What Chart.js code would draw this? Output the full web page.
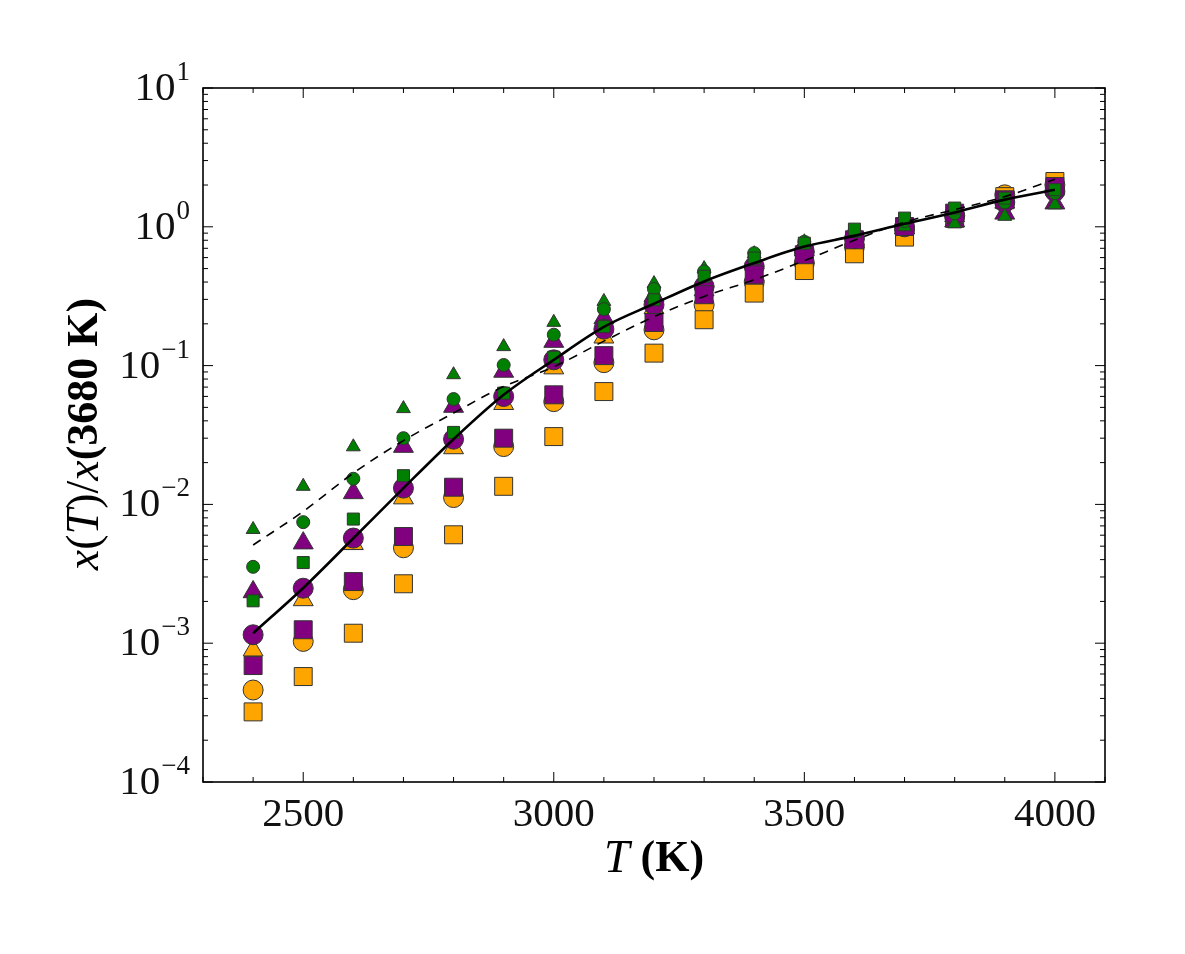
<!DOCTYPE html>
<html lang="en">
<head>
<meta charset="UTF-8">
<title>x(T)/x(3680 K)</title>
<script src="https://cdn.jsdelivr.net/npm/chart.js"></script>
<style>
  html, body { margin: 0; padding: 0; background: #fff; }
  .wrap { width: 1185px; height: 954px; position: relative; }
</style>
</head>
<body>
<div class="wrap"><canvas id="chart"></canvas></div>
<script>
// temperatures (K)
const temps = [2400, 2500, 2600, 2700, 2800, 2900, 3000, 3100, 3200, 3300, 3400, 3500, 3600, 3700, 3800, 3900, 4000];

// green (small markers)
const greenTri  = [0.0066, 0.0135, 0.026, 0.049, 0.086, 0.137, 0.205, 0.29, 0.39, 0.50, 0.64, 0.78, 0.90, 1.00, 1.05, 1.19, 1.44];
const greenCirc = [0.00355, 0.00745, 0.0153, 0.030, 0.0574, 0.101, 0.167, 0.255, 0.356, 0.477, 0.646, 0.78, 0.93, 1.10, 1.25, 1.50, 1.75];
const greenSq   = [0.00202, 0.00381, 0.00784, 0.0161, 0.033, 0.0633, 0.115, 0.191, 0.298, 0.44, 0.595, 0.762, 0.962, 1.155, 1.364, 1.61, 1.85];

// purple
const purpleTri  = [0.00234, 0.00526, 0.0121, 0.0261, 0.0507, 0.0907, 0.149, 0.22, 0.318, 0.404, 0.55, 0.68, 0.82, 0.98, 1.10, 1.25, 1.48];
const purpleCirc = [0.00115, 0.00249, 0.00572, 0.0131, 0.0295, 0.0599, 0.110, 0.183, 0.274, 0.372, 0.518, 0.66, 0.82, 1.00, 1.20, 1.50, 1.80];
const purpleSq   = [0.00069, 0.00125, 0.00278, 0.00587, 0.0133, 0.030, 0.0616, 0.118, 0.2045, 0.324, 0.451, 0.629, 0.806, 1.005, 1.255, 1.566, 1.95];

// orange
const orangeTri  = [0.00089, 0.00205, 0.0052, 0.0111, 0.0255, 0.0531, 0.0959, 0.160, 0.26, 0.35, 0.45, 0.60, 0.78, 0.98, 1.20, 1.50, 1.90];
const orangeCirc = [0.00046, 0.00103, 0.00243, 0.00487, 0.0112, 0.0261, 0.055, 0.105, 0.181, 0.274, 0.40, 0.55, 0.72, 0.95, 1.20, 1.70, 2.00];
const orangeSq   = [0.00032, 0.000575, 0.00118, 0.00268, 0.00604, 0.0135, 0.0308, 0.065, 0.123, 0.214, 0.333, 0.484, 0.639, 0.843, 1.15, 1.65, 2.12];

// fitted curves
const solidFit  = [0.00118, 0.0025, 0.0057, 0.0131, 0.0295, 0.0616, 0.110, 0.19, 0.279, 0.404, 0.548, 0.72, 0.86, 1.05, 1.27, 1.57, 1.85];
const dashedFit = [0.0051, 0.0089, 0.0168, 0.0288, 0.0455, 0.0707, 0.098, 0.15, 0.225, 0.315, 0.415, 0.57, 0.80, 1.08, 1.33, 1.65, 2.2];

const xTickValues = [2500, 3000, 3500, 4000];
const yTickExps = [-4, -3, -2, -1, 0, 1];

const serif = "'Liberation Serif', 'DejaVu Serif', serif";

const pts = vals => temps.map((t, i) => ({ x: t, y: vals[i] }));

function markers(label, vals, color, shape, r) {
    return {
        label, data: pts(vals), showLine: false,
        pointStyle: shape, pointRadius: r, pointHoverRadius: r,
        backgroundColor: color, borderColor: '#333', borderWidth: 1
    };
}

function curve(label, vals, width, dash) {
    return {
        label, data: pts(vals), showLine: true, cubicInterpolationMode: 'monotone',
        borderColor: '#000', borderWidth: width, borderDash: dash,
        pointRadius: 0, pointHoverRadius: 0, fill: false
    };
}

function drawParts(ctx, parts, cx, cy) {
    let total = 0;
    parts.forEach(p => { ctx.font = p.f; p.w = ctx.measureText(p.t).width; total += p.w; });
    let px = cx - total / 2;
    ctx.textAlign = 'left';
    parts.forEach(p => { ctx.font = p.f; ctx.fillText(p.t, px, cy); px += p.w; });
}

// frame, inward ticks, y tick labels (10^n) and axis titles
const framePlugin = {
    id: 'frame',
    afterDatasetsDraw(chart) {
        const { ctx, chartArea: a, scales: { x, y } } = chart;
        ctx.save();
        ctx.strokeStyle = '#000';
        ctx.lineWidth = 1;
        const seg = (x1, y1, x2, y2) => { ctx.beginPath(); ctx.moveTo(x1, y1); ctx.lineTo(x2, y2); ctx.stroke(); };
        for (let t = 2300; t <= 4100; t += 100) {
            const px = x.getPixelForValue(t);
            const len = t % 500 === 0 ? 10 : 5;
            seg(px, a.bottom, px, a.bottom - len);
            seg(px, a.top, px, a.top + len);
        }
        for (let e = -4; e <= 1; e++) {
            for (let m = 1; m < 10; m++) {
                if (e === 1 && m > 1) break;
                const py = y.getPixelForValue(m * Math.pow(10, e));
                const len = m === 1 ? 10 : 5;
                seg(a.left, py, a.left + len, py);
                seg(a.right, py, a.right - len, py);
            }
        }
        ctx.lineWidth = 1.6;
        ctx.strokeRect(a.left, a.top, a.right - a.left, a.bottom - a.top);
        ctx.restore();
    },
    afterDraw(chart) {
        const { ctx, chartArea: a, scales: { y } } = chart;
        ctx.save();
        ctx.fillStyle = '#111';
        ctx.textBaseline = 'alphabetic';
        // y tick labels
        yTickExps.forEach(e => {
            const py = y.getPixelForValue(Math.pow(10, e));
            const exp = e < 0 ? '\u2212' + (-e) : String(e);
            ctx.font = `27px ${serif}`;
            const we = ctx.measureText(exp).width;
            const right = a.left - 13;
            ctx.textAlign = 'right';
            ctx.fillText(exp, right, py - 8);
            ctx.font = `41px ${serif}`;
            ctx.fillText('10', right - we - 1, py + 12);
        });
        ctx.fillStyle = '#000';
        ctx.textBaseline = 'middle';
        // x title: T (K)
        drawParts(ctx, [
            { t: 'T', f: `italic 46px ${serif}` },
            { t: ' (K)', f: `bold 44px ${serif}` }
        ], (a.left + a.right) / 2, 860);
        // y title: x(T)/x(3680 K), rotated
        ctx.translate(86, 434);
        ctx.rotate(-Math.PI / 2);
        drawParts(ctx, [
            { t: 'x', f: `italic 46px ${serif}` },
            { t: '(', f: `46px ${serif}` },
            { t: 'T', f: `italic 46px ${serif}` },
            { t: ')/', f: `46px ${serif}` },
            { t: 'x', f: `italic 46px ${serif}` },
            { t: '(3680 K)', f: `bold 44px ${serif}` }
        ], 0, 0);
        ctx.restore();
    }
};

new Chart(document.getElementById('chart'), {
    type: 'scatter',
    data: {
        datasets: [
            curve('solid fit', solidFit, 2.6, []),
            curve('dashed fit', dashedFit, 1.6, [9, 7]),
            markers('green squares', greenSq, 'green', 'rect', 8.5),
            markers('green circles', greenCirc, 'green', 'circle', 6.5),
            markers('green triangles', greenTri, 'green', 'triangle', 8),
            markers('purple squares', purpleSq, 'purple', 'rect', 12.7),
            markers('purple circles', purpleCirc, 'purple', 'circle', 10),
            markers('purple triangles', purpleTri, 'purple', 'triangle', 11.5),
            markers('orange squares', orangeSq, 'orange', 'rect', 12.7),
            markers('orange circles', orangeCirc, 'orange', 'circle', 10),
            markers('orange triangles', orangeTri, 'orange', 'triangle', 11.5)
        ]
    },
    options: {
        responsive: true,
        maintainAspectRatio: false,
        animation: false,
        layout: { padding: { top: 88, right: 80, left: 0, bottom: 0 } },
        plugins: { legend: { display: false }, tooltip: { enabled: false } },
        scales: {
            x: {
                type: 'linear', min: 2300, max: 4100,
                grid: { display: false }, border: { display: false },
                afterBuildTicks: s => { s.ticks = xTickValues.map(v => ({ value: v })); },
                afterFit: s => { s.height = 172; },
                ticks: {
                    color: '#111', padding: 1, maxRotation: 0,
                    font: { family: serif, size: 41 },
                    callback: v => String(v)
                }
            },
            y: {
                type: 'logarithmic', min: 1e-4, max: 10,
                grid: { display: false }, border: { display: false },
                afterBuildTicks: s => { s.ticks = yTickExps.map(e => ({ value: Math.pow(10, e) })); },
                afterFit: s => { s.width = 203; },
                ticks: { display: false }
            }
        }
    },
    plugins: [framePlugin]
});
</script>
</body>
</html>
